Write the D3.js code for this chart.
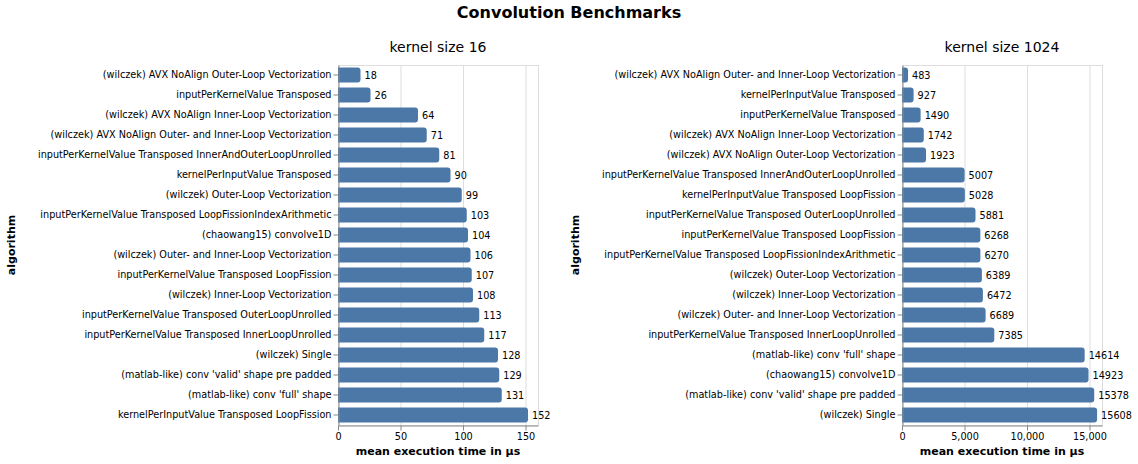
<!DOCTYPE html>
<html>
<head>
<meta charset="utf-8">
<script src="https://cdn.jsdelivr.net/npm/d3@7"></script>
<style>
  body { margin: 0; background: #fff; }
  text { font-family: "DejaVu Sans", sans-serif; }
</style>
</head>
<body>
<div id="chart"></div>
<script>
const algorithms = [
    '(wilczek) AVX NoAlign Outer-Loop Vectorization',
    'inputPerKernelValue Transposed',
    '(wilczek) AVX NoAlign Inner-Loop Vectorization',
    '(wilczek) AVX NoAlign Outer- and Inner-Loop Vectorization',
    'inputPerKernelValue Transposed InnerAndOuterLoopUnrolled',
    'kernelPerInputValue Transposed',
    '(wilczek) Outer-Loop Vectorization',
    'inputPerKernelValue Transposed LoopFissionIndexArithmetic',
    '(chaowang15) convolve1D',
    '(wilczek) Outer- and Inner-Loop Vectorization',
    'inputPerKernelValue Transposed LoopFission',
    '(wilczek) Inner-Loop Vectorization',
    'inputPerKernelValue Transposed OuterLoopUnrolled',
    'inputPerKernelValue Transposed InnerLoopUnrolled',
    '(wilczek) Single',
    "(matlab-like) conv 'valid' shape pre padded",
    "(matlab-like) conv 'full' shape",
    'kernelPerInputValue Transposed LoopFission'
];
// mean execution time in µs, same order as algorithms
const timeKernel16 = [18, 26, 64, 71, 81, 90, 99, 103, 104, 106, 107, 108, 113, 117, 128, 129, 131, 152];
const timeKernel1024 = [1923, 1490, 1742, 483, 5007, 927, 6389, 6270, 14923, 6689, 6268, 6472, 5881, 7385, 15608, 15378, 14614, 5028];
const panelTitles = ['kernel size 16', 'kernel size 1024'];

const width = 1138;
const height = 464;
const plotW = 200;
const plotH = 360;
const plotTop = 65;
const panelLeft = [338, 902];
const barColor = '#4c78a8';
const labelSize = 9.7;

const svg = d3.select('#chart')
    .append('svg')
    .attr('width', width)
    .attr('height', height);

svg.append('text')
    .attr('x', 569)
    .attr('y', 18)
    .attr('text-anchor', 'middle')
    .attr('font-size', 16)
    .attr('font-weight', 'bold')
    .text('Convolution Benchmarks');

// bar with rounded corners at the value end only
function barPath(x0, y0, w, h, r) {
    r = Math.min(r, w, h / 2);
    return `M${x0},${y0}h${w - r}a${r},${r} 0 0 1 ${r},${r}v${h - 2 * r}a${r},${r} 0 0 1 ${-r},${r}h${-(w - r)}Z`;
}

function drawPanel(idx, values, fmt) {
    const data = algorithms.map((a, i) => ({algorithm: a, time: values[i]}))
        .sort((a, b) => d3.ascending(a.time, b.time));
    const left = panelLeft[idx];

    const x = d3.scaleLinear()
        .domain([0, d3.max(data, d => d.time)]).nice()
        .range([left, left + plotW]);
    const y = d3.scaleBand()
        .domain(data.map(d => d.algorithm))
        .range([plotTop, plotTop + plotH])
        .paddingInner(0.25)
        .paddingOuter(0.125);

    const g = svg.append('g');

    // grid + view border
    g.append('g')
        .selectAll('line')
        .data(x.ticks(4))
        .join('line')
            .attr('x1', d => x(d) + 0.5)
            .attr('x2', d => x(d) + 0.5)
            .attr('y1', plotTop)
            .attr('y2', plotTop + plotH)
            .attr('stroke', '#ddd');
    g.append('rect')
        .attr('x', left + 0.5)
        .attr('y', plotTop + 0.5)
        .attr('width', plotW)
        .attr('height', plotH)
        .attr('fill', 'none')
        .attr('stroke', '#ddd');

    g.append('g')
        .selectAll('path')
        .data(data)
        .join('path')
            .attr('d', d => barPath(x(0), y(d.algorithm), x(d.time) - x(0), y.bandwidth(), 3))
            .attr('fill', barColor);

    g.append('g')
        .selectAll('text')
        .data(data)
        .join('text')
            .attr('x', d => x(d.time) + 4)
            .attr('y', d => y(d.algorithm) + y.bandwidth() / 2 + 3.5)
            .attr('font-size', labelSize)
            .text(d => d.time);

    // y axis
    const yAxis = g.append('g')
        .attr('transform', `translate(${left + 0.5},0)`)
        .call(d3.axisLeft(y).tickSize(5).tickPadding(2).tickSizeOuter(0));
    yAxis.select('.domain').attr('stroke', '#888');
    yAxis.selectAll('.tick line').attr('stroke', '#888');
    yAxis.selectAll('.tick text')
        .attr('font-family', '"DejaVu Sans", sans-serif')
        .attr('font-size', labelSize)
        .attr('fill', '#000');

    // x axis
    const xAxis = g.append('g')
        .attr('transform', `translate(0,${plotTop + plotH + 0.5})`)
        .call(d3.axisBottom(x).ticks(4).tickFormat(fmt).tickSize(5).tickPadding(3).tickSizeOuter(0));
    xAxis.select('.domain').attr('stroke', '#888');
    xAxis.selectAll('.tick line').attr('stroke', '#888');
    xAxis.selectAll('.tick text')
        .attr('font-family', '"DejaVu Sans", sans-serif')
        .attr('font-size', labelSize)
        .attr('fill', '#000');

    g.append('text')
        .attr('x', left + plotW / 2)
        .attr('y', 455)
        .attr('text-anchor', 'middle')
        .attr('font-size', 11)
        .attr('font-weight', 'bold')
        .text('mean execution time in µs');

    g.append('text')
        .attr('transform', `translate(${left - 323},${plotTop + plotH / 2}) rotate(-90)`)
        .attr('text-anchor', 'middle')
        .attr('font-size', 11)
        .attr('font-weight', 'bold')
        .text('algorithm');

    g.append('text')
        .attr('x', left + plotW / 2)
        .attr('y', 52)
        .attr('text-anchor', 'middle')
        .attr('font-size', 14)
        .text(panelTitles[idx]);
}

drawPanel(0, timeKernel16, d3.format('d'));
drawPanel(1, timeKernel1024, d3.format(',d'));
</script>
</body>
</html>
